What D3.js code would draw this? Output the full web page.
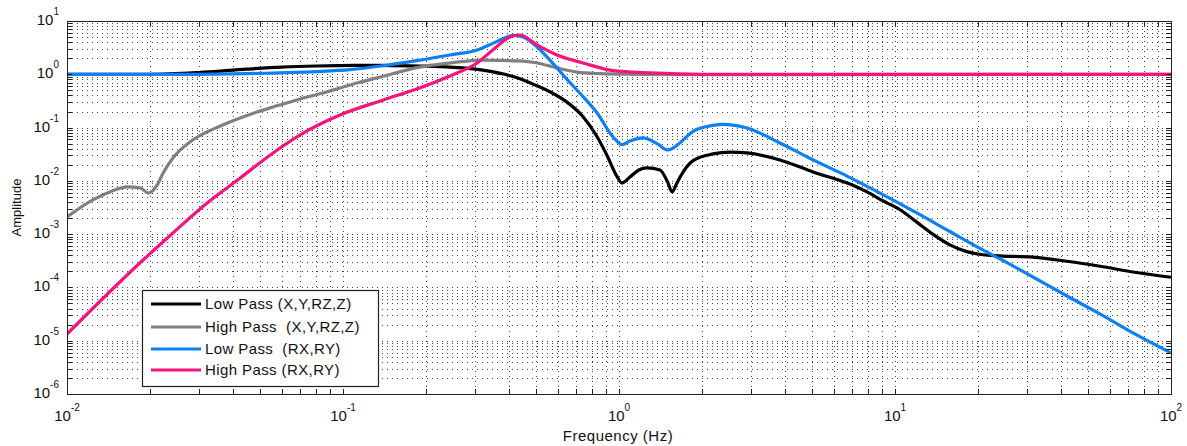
<!DOCTYPE html>
<html lang="en">
<head>
  <meta charset="UTF-8" />
  <title>Filter Amplitude</title>
  <script src="https://d3js.org/d3.v7.min.js"></script>
  <style>
    html, body {
      margin: 0;
      padding: 0;
      background-color: white;
      overflow: hidden;
    }
    svg {
      display: block;
      font-family: "Liberation Sans", Arial, sans-serif;
    }
  </style>
</head>
<body>
  <svg id="chart" width="1187" height="446"></svg>

  <script>
    // [frequency Hz, amplitude]
    const lowPassXYZ = [
      [0.01, 1.0], [0.02, 1.0], [0.03, 1.08], [0.045, 1.25], [0.06, 1.36], [0.08, 1.43],
      [0.11, 1.47], [0.15, 1.46], [0.2, 1.42], [0.244, 1.36], [0.321, 1.2], [0.427, 0.86],
      [0.5, 0.62], [0.562, 0.47], [0.648, 0.3], [0.741, 0.16], [0.832, 0.068], [0.905, 0.03],
      [0.984, 0.012], [1.025, 0.0091], [1.096, 0.0118], [1.18, 0.016], [1.262, 0.0175],
      [1.408, 0.016], [1.5, 0.0095], [1.557, 0.0062], [1.62, 0.009], [1.665, 0.0118],
      [1.855, 0.024], [2.19, 0.032], [2.52, 0.0345], [2.91, 0.0334], [3.83, 0.0247],
      [5.05, 0.0147], [6.87, 0.0087], [7.92, 0.0062], [9.06, 0.0042], [10.4, 0.0029],
      [12.0, 0.00168], [13.7, 0.001], [15.8, 0.00063], [18.2, 0.00047], [20.8, 0.00041],
      [24, 0.00039], [31.6, 0.00037], [42, 0.00031], [55.3, 0.00025], [72.8, 0.000195],
      [100, 0.000155]
    ];
    const highPassXYZ = [
      [0.01, 0.0021], [0.0124, 0.0044], [0.0143, 0.0062], [0.0165, 0.0077], [0.0184, 0.0074],
      [0.0197, 0.0059], [0.0212, 0.0083], [0.0223, 0.0141], [0.0242, 0.0269], [0.0279, 0.0537],
      [0.0321, 0.0826], [0.0367, 0.112], [0.0424, 0.151], [0.0488, 0.196], [0.0558, 0.2435],
      [0.0643, 0.302], [0.0741, 0.375], [0.0846, 0.446], [0.0975, 0.553], [0.1124, 0.687],
      [0.14, 0.92], [0.185, 1.33], [0.244, 1.63], [0.321, 1.85], [0.427, 1.78], [0.505, 1.63],
      [0.596, 1.31], [0.705, 1.1], [0.853, 1.03], [1.124, 1.0], [2, 0.98], [100, 1.0]
    ];
    const lowPassRXRY = [
      [0.01, 1.0], [0.03, 1.0], [0.05, 1.04], [0.08, 1.12], [0.106, 1.22], [0.14, 1.45],
      [0.185, 1.8], [0.244, 2.3], [0.306, 2.86], [0.349, 3.8], [0.393, 5.0], [0.413, 5.4],
      [0.449, 5.0], [0.505, 3.25], [0.562, 1.85], [0.648, 0.8], [0.722, 0.44], [0.832, 0.19],
      [0.951, 0.067], [1.025, 0.048], [1.096, 0.056], [1.222, 0.064], [1.373, 0.05],
      [1.505, 0.038], [1.665, 0.052], [1.855, 0.085], [2.19, 0.11], [2.38, 0.115], [2.91, 0.098],
      [3.83, 0.0514], [5.05, 0.0247], [6.7, 0.0123], [8.83, 0.0059], [12, 0.0025],
      [15.8, 0.00112], [20.8, 0.000506], [24, 0.000343], [31.6, 0.000157], [42, 6.9e-5],
      [55.3, 3.18e-5], [72.8, 1.4e-5], [100, 5.9e-6]
    ];
    const highPassRXRY = [
      [0.01, 1.33e-5], [0.0189, 3.3e-4], [0.0242, 0.00105], [0.0321, 0.0038], [0.0424, 0.0113],
      [0.0558, 0.0334], [0.0741, 0.0863], [0.0975, 0.172], [0.14, 0.33],
      [0.185, 0.53], [0.244, 0.93], [0.306, 1.63], [0.349, 2.86], [0.403, 5.0], [0.438, 5.46],
      [0.505, 3.55], [0.596, 2.3], [0.741, 1.63], [0.927, 1.2], [1.124, 1.1], [1.294, 1.06],
      [2, 1.0], [100, 1.0]
    ];

    const seriesLabels = ["Low Pass (X,Y,RZ,Z)", "High Pass  (X,Y,RZ,Z)", "Low Pass  (RX,RY)", "High Pass (RX,RY)"];
    const seriesData = [lowPassXYZ, highPassXYZ, lowPassRXRY, highPassRXRY];
    const seriesColors = ["#000000", "#808080", "#0d80f5", "#f5137c"];

    const xDecades = [-2, -1, 0, 1, 2];
    const yDecades = [-6, -5, -4, -3, -2, -1, 0, 1];

    const svg = d3.select("#chart");
    const plotLeft = 67, plotRight = 1171, plotTop = 21, plotBottom = 394;

    const x = d3.scaleLog().domain([1e-2, 1e2]).range([plotLeft, plotRight]);
    const y = d3.scaleLog().domain([1e-6, 1e1]).range([plotBottom, plotTop]);

    // all tick values: 1..9 x 10^d inside domain
    function logTicks(decades) {
      const out = [];
      decades.forEach((d, i) => {
        if (i === decades.length - 1) { out.push(Math.pow(10, d)); return; }
        for (let m = 1; m <= 9; m++) out.push(m * Math.pow(10, d));
      });
      return out;
    }
    const xTicks = logTicks(xDecades);
    const yTicks = logTicks(yDecades);

    // dotted grid
    const grid = svg.append("g")
      .attr("stroke", "#444")
      .attr("stroke-width", 1)
      .attr("stroke-dasharray", "1,4")
      .attr("shape-rendering", "crispEdges");

    grid.selectAll("line.vx")
      .data(xTicks.slice(1, -1))
      .join("line")
      .attr("x1", d => Math.round(x(d)) + 0.5)
      .attr("x2", d => Math.round(x(d)) + 0.5)
      .attr("y1", plotTop)
      .attr("y2", plotBottom);

    grid.selectAll("line.hy")
      .data(yTicks.slice(1, -1))
      .join("line")
      .attr("y1", d => Math.round(y(d)) + 0.5)
      .attr("y2", d => Math.round(y(d)) + 0.5)
      .attr("x1", plotLeft)
      .attr("x2", plotRight);

    // curves
    svg.append("clipPath").attr("id", "plotclip")
      .append("rect")
      .attr("x", plotLeft).attr("y", plotTop)
      .attr("width", plotRight - plotLeft).attr("height", plotBottom - plotTop);

    const line = d3.line()
      .x(d => x(d[0]))
      .y(d => y(d[1]))
      .curve(d3.curveMonotoneX);

    svg.append("g")
      .attr("clip-path", "url(#plotclip)")
      .selectAll("path")
      .data(seriesData)
      .join("path")
      .attr("d", line)
      .attr("fill", "none")
      .attr("stroke", (d, i) => seriesColors[i])
      .attr("stroke-width", 3.2)
      .attr("stroke-linejoin", "round");

    // ticks on all four sides, pointing inward
    const tickLen = 5;
    const ticks = svg.append("g")
      .attr("stroke", "#222")
      .attr("stroke-width", 1)
      .attr("shape-rendering", "crispEdges");

    xTicks.forEach(d => {
      const px = Math.round(x(d)) + 0.5;
      ticks.append("line").attr("x1", px).attr("x2", px).attr("y1", plotBottom).attr("y2", plotBottom - tickLen);
      ticks.append("line").attr("x1", px).attr("x2", px).attr("y1", plotTop).attr("y2", plotTop + tickLen);
    });
    yTicks.forEach(d => {
      const py = Math.round(y(d)) + 0.5;
      ticks.append("line").attr("y1", py).attr("y2", py).attr("x1", plotLeft).attr("x2", plotLeft + tickLen);
      ticks.append("line").attr("y1", py).attr("y2", py).attr("x1", plotRight).attr("x2", plotRight - tickLen);
    });

    // axes box
    svg.append("rect")
      .attr("x", plotLeft + 0.5).attr("y", plotTop + 0.5)
      .attr("width", plotRight - plotLeft).attr("height", plotBottom - plotTop)
      .attr("fill", "none")
      .attr("stroke", "#222")
      .attr("stroke-width", 1.3)
      .attr("shape-rendering", "crispEdges");

    // tick labels  10^n
    const xLab = svg.append("g").attr("fill", "#111");
    xDecades.forEach(d => {
      const t = xLab.append("text")
        .attr("x", x(Math.pow(10, d)))
        .attr("y", 421)
        .attr("text-anchor", "middle")
        .style("font-size", "15px");
      t.append("tspan").text("10");
      t.append("tspan").attr("dy", -10).style("font-size", "10px").text(d);
    });

    const yLab = svg.append("g").attr("fill", "#111");
    yDecades.forEach(d => {
      const t = yLab.append("text")
        .attr("x", 59)
        .attr("y", y(Math.pow(10, d)) + 4)
        .attr("text-anchor", "end")
        .style("font-size", "15px");
      t.append("tspan").text("10");
      t.append("tspan").attr("dy", -10).style("font-size", "10px").text(d);
    });

    // axis titles
    svg.append("text")
      .attr("x", 618)
      .attr("y", 441)
      .attr("text-anchor", "middle")
      .attr("fill", "#111")
      .style("font-size", "15px")
      .style("letter-spacing", "0.5px")
      .text("Frequency (Hz)");

    svg.append("text")
      .attr("transform", `translate(21, ${(plotTop + plotBottom) / 2}) rotate(-90)`)
      .attr("text-anchor", "middle")
      .attr("fill", "#111")
      .style("font-size", "13px")
      .text("Amplitude");

    // legend
    const legend = svg.append("g").attr("transform", "translate(142, 290)");
    legend.append("rect")
      .attr("x", 0.5).attr("y", 0.5)
      .attr("width", 236).attr("height", 96)
      .attr("fill", "white")
      .attr("stroke", "#222")
      .attr("stroke-width", 1.2);

    const rowY = [14, 37, 59, 80];
    seriesLabels.forEach((label, i) => {
      legend.append("line")
        .attr("x1", 9).attr("x2", 59)
        .attr("y1", rowY[i]).attr("y2", rowY[i])
        .attr("stroke", seriesColors[i])
        .attr("stroke-width", 3.2);
      legend.append("text")
        .attr("x", 63)
        .attr("y", rowY[i] + 5)
        .attr("fill", "#111")
        .style("font-size", "15px")
        .style("letter-spacing", "0.4px")
        .style("white-space", "pre")
        .text(label);
    });
  </script>
</body>
</html>
